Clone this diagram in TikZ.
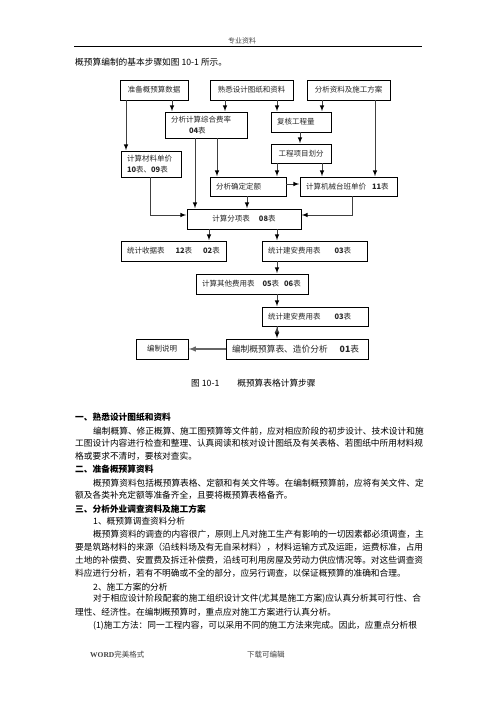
\documentclass[tikz,border=0pt]{standalone}
\usepackage{fontspec}
\setmainfont{Noto Sans CJK SC}
\newfontfamily\latinserif{Liberation Serif}
\usepackage{xcolor}
\newcommand{\fullline}[2]{\makebox[#1][s]{\XeTeXlinebreaklocale "zh"\XeTeXlinebreakskip=0pt plus 2pt #2}}

\begin{document}
\begin{tikzpicture}[x=1pt,y=-1pt,
	box node/.style={draw, line width=0.8pt, rectangle, inner xsep=6pt, inner ysep=0pt, minimum height=20pt, align=left, text=black!85, font=\fontsize{7.5}{10.5}\selectfont},
	text line/.style={anchor=west, inner sep=0pt, font=\fontsize{8.7}{10}\selectfont},
	head line/.style={anchor=west, inner sep=0pt, font=\bfseries\fontsize{8.7}{10}\selectfont}]
	\useasboundingbox (0,0) rectangle (496,702);
	
	% Header
	\node[inner sep=0pt, font=\fontsize{7}{8}\selectfont, text=black!70] (h) at (242,41) {专业资料};
	\draw[line width=0.6pt] (74,46) -- (422,46);
	\node[text line] (t0) at (75,62) {概预算编制的基本步骤如图 10-1 所示。};
	
	% Nodes
	\node[box node, text width=56pt, align=center] (1) at (154,90) {准备概预算数据};
	\node[box node, text width=71pt, align=center] (2) at (251.5,90) {熟悉设计图纸和资料};
	\node[box node, text width=71pt, align=center] (3) at (348.5,90) {分析资料及施工方案};
	\node[box node, text width=70pt, minimum height=26pt] (4) at (206,125) {分析计算综合费率\\\hspace*{18pt}\textbf{04}表};
	\node[box node, text width=48pt] (5) at (301,122) {复核工程量};
	\node[box node, text width=48pt, minimum height=19pt, align=center] (6) at (301,153.5) {工程项目划分};
	\node[box node, text width=48pt, minimum height=26pt] (7) at (151,164) {计算材料单价\\\textbf{10}表、\textbf{09}表};
	\node[box node, text width=64pt, minimum height=19pt] (8) at (248,186.5) {分析确定定额};
	\node[box node, text width=85pt, minimum height=19pt] (9) at (348.5,186.5) {计算机械台班单价\hspace{6pt}\textbf{11}表};
	\node[box node, text width=102pt, align=center] (10) at (244,219) {计算分项表\hspace{9pt}\textbf{08}表};
	\node[box node, text width=93pt] (11) at (173.5,251) {统计收据表\hspace{11pt}\textbf{12}表\hspace{11pt}\textbf{02}表};
	\node[box node, text width=93pt] (12) at (314.5,251) {统计建安费用表\hspace{14pt}\textbf{03}表};
	\node[box node, text width=100pt] (13) at (252,284) {计算其他费用表\hspace{8pt}\textbf{05}表\hspace{5pt}\textbf{06}表};
	\node[box node, text width=94pt, minimum height=19pt] (14) at (315,316.5) {统计建安费用表\hspace{14pt}\textbf{03}表};
	\node[box node, text width=130pt, font=\fontsize{8.7}{10}\selectfont] (15) at (297,349) {编制概预算表、造价分析\hspace{12pt}\textbf{01}表};
	\node[box node, text width=40pt, align=center] (16) at (162,349) {编制说明};
	
	\path[->, >=latex, line width=1pt, draw=black!75, shorten >=0.4pt]
	(1.south -| 126,0) edge (7.north -| 126,0)
	(1.south -| 172,0) edge (4.north -| 172,0)
	(2.south -| 225,0) edge (4.north -| 225,0)
	(2.south -| 277,0) edge (5.north -| 277,0)
	(3.south -| 322,0) edge (5.north -| 322,0)
	(3.south -| 375,0) edge (9.north -| 375,0)
	
	(5.south -| 300,0) edge (6.north -| 300,0)
	(6.south -| 277,0) edge (8.north -| 277,0)
	(6.south -| 322,0) edge (9.north -| 322,0)
	(4.south -| 217,0) edge (8.north -| 217,0)
	(4.south -| 195,0) edge (10.north -| 195,0)
	(8.east |- 0,184) edge (9.west |- 0,184)
	
	(7.south -| 150,0) edge[to path={|- (\tikztotarget)}] (10.west |- 0,215)
	(8.south -| 247,0) edge (10.north -| 247,0)
	(9.south -| 352,0) edge[to path={|- (\tikztotarget)}] (10.east |- 0,215)
	
	(10.south -| 209,0) edge (11.north -| 209,0)
	(10.south -| 277,0) edge (12.north -| 277,0)
	(12.south -| 277,0) edge (13.north -| 277,0)
	(13.south -| 277,0) edge (14.north -| 277,0)
	(14.south -| 277,0) edge (15.north -| 277,0);
	
	\draw[->, >=latex, line width=1.4pt, draw=black!60, shorten >=0.4pt] (15.west) -- (16.east);
	
	% Caption
	\node[text line] (cap) at (191,383) {图 10-1\hspace{18pt}概预算表格计算步骤};
	
	% Text
	\node[head line] (s1) at (75,417) {一、熟悉设计图纸和资料};
	\node[text line] (l1) at (93,431) {\fullline{327pt}{编制概算、修正概算、施工图预算等文件前，应对相应阶段的初步设计、技术设计和施}};
	\node[text line] (l2) at (75,443) {\fullline{345pt}{工图设计内容进行检查和整理、认真阅读和核对设计图纸及有关表格、若图纸中所用材料规}};
	\node[text line] (l3) at (75,456) {格或要求不清时，要核对查实。};
	\node[head line] (s2) at (75,469) {二、准备概预算资料};
	\node[text line] (l4) at (93,483) {\fullline{327pt}{概预算资料包括概预算表格、定额和有关文件等。在编制概预算前，应将有关文件、定}};
	\node[text line] (l5) at (75,495) {额及各类补充定额等准备齐全，且要将概预算表格备齐。};
	\node[head line] (s3) at (75,509) {三、分析外业调查资料及施工方案};
	\node[text line] (l6) at (93,521) {1、概预算调查资料分析};
	\node[text line] (l7) at (93,534) {\fullline{327pt}{概预算资料的调查的内容很广，原则上凡对施工生产有影响的一切因素都必须调查，主}};
	\node[text line] (l8) at (75,547) {\fullline{345pt}{要是筑路材料的来源（沿线料场及有无自采材料），材料运输方式及运距，运费标准，占用}};
	\node[text line] (l9) at (75,560) {\fullline{345pt}{土地的补偿费、安置费及拆迁补偿费，沿线可利用房屋及劳动力供应情况等。对这些调查资}};
	\node[text line] (l10) at (75,573) {料应进行分析，若有不明确或不全的部分，应另行调查，以保证概预算的准确和合理。};
	\node[text line] (l11) at (93,587) {2、施工方案的分析};
	\node[text line] (l12) at (93,599) {\fullline{327pt}{对于相应设计阶段配套的施工组织设计文件(尤其是施工方案)应认真分析其可行性、合}};
	\node[text line] (l13) at (75,612) {理性、经济性。在编制概预算时，重点应对施工方案进行认真分析。};
	\node[text line] (l14) at (93,626) {\fullline{327pt}{(1)施工方法：同一工程内容，可以采用不同的施工方法来完成。因此，应重点分析根}};
	
	% Footer
	\node[anchor=west, inner sep=0pt, font=\fontsize{7.5}{9}\selectfont, text=black!75] (f1) at (90,655) {{\latinserif\bfseries WORD}完美格式};
	\node[anchor=west, inner sep=0pt, font=\fontsize{7.5}{9}\selectfont, text=black!75] (f2) at (247,655) {下载可编辑};
\end{tikzpicture}
\end{document}
